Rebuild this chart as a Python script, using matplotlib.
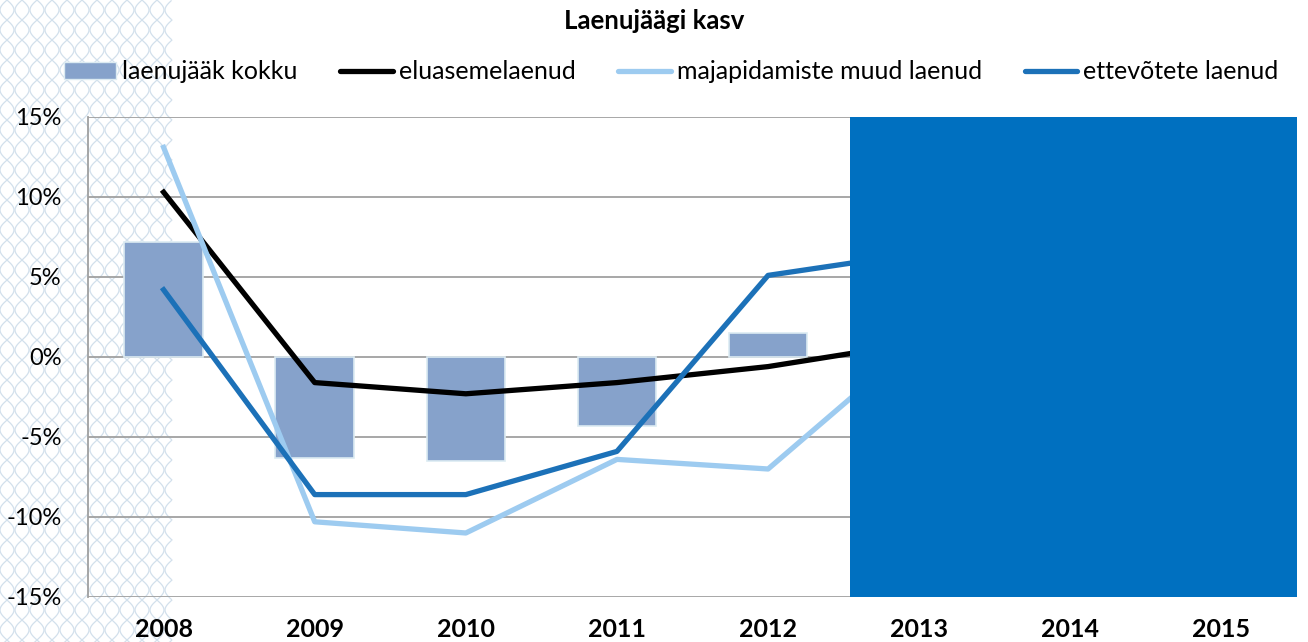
import numpy as np
import matplotlib.pyplot as plt
from matplotlib.lines import Line2D

plt.rcParams["font.family"] = ["Lato", "DejaVu Sans"]

years = ["2008", "2009", "2010", "2011", "2012", "2013", "2014", "2015"]
# values (2013+ hidden behind the forecast block)
laenujaak = [7.2, -6.3, -6.5, -4.3, 1.5, np.nan, np.nan, np.nan]
eluasemelaenud = [10.3, -1.6, -2.3, -1.6, -0.6, 0.9, np.nan, np.nan]
muud_laenud = [13.1, -10.3, -11.0, -6.4, -7.0, 1.1, np.nan, np.nan]
ettevotete = [4.2, -8.6, -8.6, -5.9, 5.1, 6.5, np.nan, np.nan]
hidden_from = "2013"

fig = plt.figure(figsize=(13.08, 6.42), dpi=100)

# decorative wavy pattern on the left
deco = fig.add_axes([0, 0, 1, 1], zorder=0)
deco.set_xlim(0, 1308)
deco.set_ylim(642, 0)
deco.axis("off")
yy = np.linspace(0, 642, 800)
for x0 in range(-8, 175, 15):
    for sgn in (1, -1):
        xx = x0 + sgn * 7 * np.sin(2 * np.pi * yy / 40)
        xx = np.where(xx < 172 + 6 * np.sin(2 * np.pi * yy / 40), xx, np.nan)
        deco.plot(xx, yy, color="#D2E0EC", lw=0.9)

ax = fig.add_axes([0.0673, 0.0701, 0.9243, 0.7477], zorder=1)
ax.patch.set_alpha(0)
x = np.arange(len(years))

ax.bar(x, laenujaak, width=0.52, color="#86A2CB", edgecolor="#DCEBF2", linewidth=1.2, zorder=2)
ax.plot(x, eluasemelaenud, color="black", lw=3.8, zorder=3)
ax.plot(x, muud_laenud, color="#9DCBF0", lw=3.8, zorder=3)
ax.plot(x, ettevotete, color="#1C71B8", lw=3.8, zorder=3)

# forecast block
h = years.index(hidden_from)
ax.axvspan(h - 0.46, len(years) - 0.5, color="#0070C0", zorder=5, lw=0)

ax.set_xlim(-0.5, len(years) - 0.5)
ax.set_ylim(-15, 15)
ax.set_yticks(np.arange(-15, 16, 5))
ax.set_yticklabels([f"{v}%" for v in range(-15, 16, 5)], fontsize=17)
ax.set_xticks(x)
ax.set_xticklabels(years, fontsize=18, fontweight="bold")
ax.tick_params(axis="both", length=0)
ax.tick_params(axis="y", pad=19)
ax.tick_params(axis="x", pad=15)
ax.grid(axis="y", color="#A0A0A0", lw=1.3, zorder=0)
ax.set_axisbelow(True)
for s in ["top", "right", "bottom"]:
    ax.spines[s].set_visible(False)
ax.spines["left"].set_color("#A0A0A0")
ax.spines["left"].set_linewidth(1.3)

fig.text(0.5, 0.968, "Laenujäägi kasv", ha="center", va="center", fontsize=18.5, fontweight="bold")

handles = [
    plt.Rectangle((0, 0), 1, 1, facecolor="#86A2CB", edgecolor="#DCEBF2"),
    Line2D([], [], color="black", lw=3.8, solid_capstyle="round"),
    Line2D([], [], color="#9DCBF0", lw=3.8, solid_capstyle="round"),
    Line2D([], [], color="#1C71B8", lw=3.8, solid_capstyle="round"),
]
labels = ["laenujääk kokku", "eluasemelaenud", "majapidamiste muud laenud", "ettevõtete laenud"]
fig.legend(handles, labels, loc="center", bbox_to_anchor=(0.513, 0.888), ncol=4,
           frameon=False, fontsize=18, handlelength=2.1, handletextpad=0.25,
           columnspacing=1.7)

fig.savefig("out.png", dpi=100)
